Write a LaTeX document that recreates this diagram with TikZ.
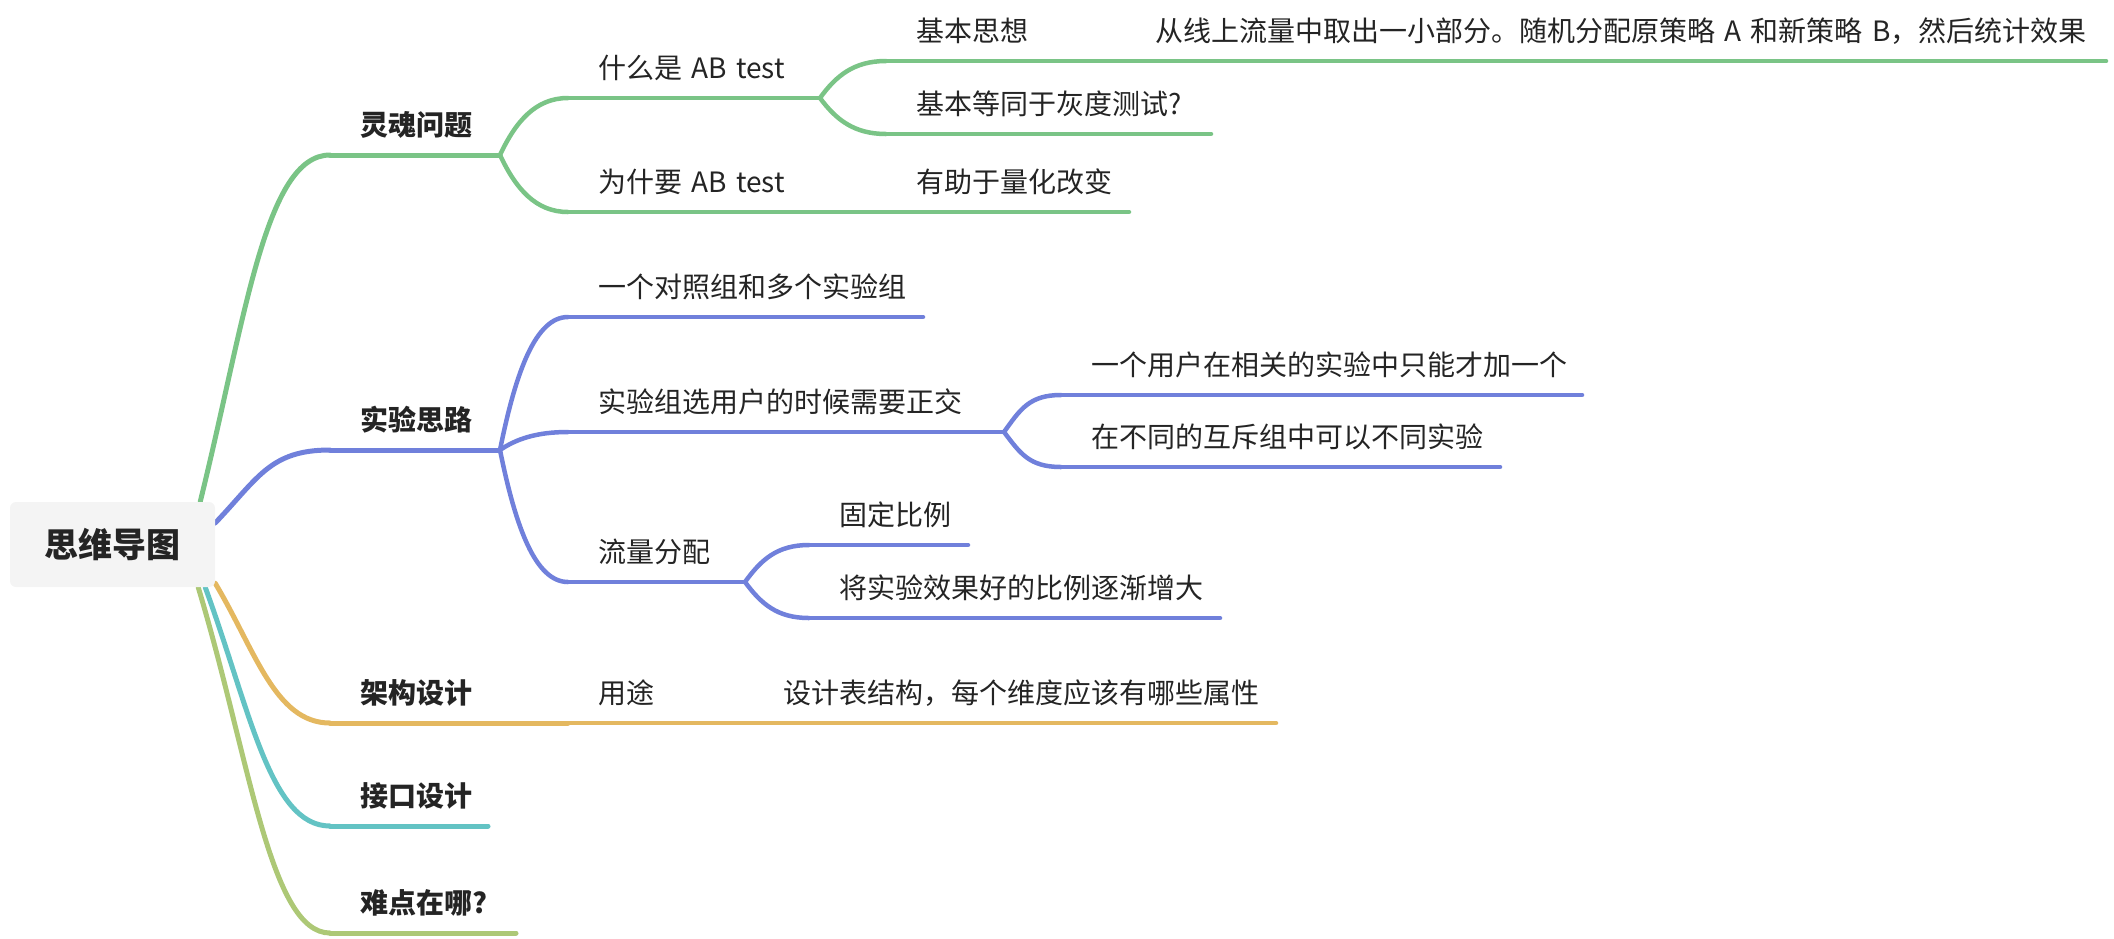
\documentclass[tikz,border=0pt]{standalone}
\usepackage{fontspec}
\setmainfont{Noto Sans CJK SC}
\usepackage{xcolor}
\usepackage{tikz}
\usetikzlibrary{positioning,calc,backgrounds}
\definecolor{mapgreen}{RGB}{122,196,134}
\definecolor{mapblue}{RGB}{112,128,219}
\definecolor{maporange}{RGB}{228,184,96}
\definecolor{mapteal}{RGB}{99,195,196}
\definecolor{mapolive}{RGB}{173,200,118}
\definecolor{rootgray}{RGB}{244,244,244}
\definecolor{inkdark}{RGB}{36,36,36}
\tikzset{
  rootnode/.style={rectangle,rounded corners=6pt,fill=rootgray,
    minimum width=205pt,minimum height=85pt,inner sep=0pt,
    font=\fontsize{34}{40}\selectfont\bfseries,text=inkdark},
  topic/.style={anchor=south west,inner sep=0pt,outer sep=0pt,
    text width=#1,align=left,text depth=20pt,text=inkdark,
    font=\fontsize{28}{34}\selectfont,
    execute at begin node=\noindent\hspace*{30pt}},
  maintopic/.style={topic=#1,font=\fontsize{28}{34}\selectfont\bfseries},
  rootline/.style={draw=#1,line width=5pt,line cap=round},
  underline/.style={draw=#1,line width=4.5pt,line cap=round},
}

\begin{document}
\begin{tikzpicture}[x=1pt,y=-1pt]
\useasboundingbox (0,0) rectangle (2114,938);

% ── Central topic ─────────────────────────────────────────────────────────
\node[rootnode] (root) at (112.5,544.5) {思维导图};

% ── Main topics (left column, top to bottom) ─────────────────────────────
\node[maintopic=170pt] (soul) at (330,155) {灵魂问题};
\node[maintopic=170pt] (exp)  at (330,450) {实验思路};
\node[maintopic=238pt] (arch) at (330,723) {架构设计};
\node[maintopic=158pt] (api)  at (330,826) {接口设计};
\node[maintopic=186pt] (hard) at (330,933) {难点在哪?};

% ── 灵魂问题 subtree ──────────────────────────────────────────────────────
\node[topic=252pt] (what) at ($(soul.south east)+(68,-57)$) {什么是 AB test};
\node[topic=318pt] (why)  at ($(soul.south east)+(68,57)$)  {为什要 AB test};
\node[topic=243pt] (help) at (why.south east) {有助于量化改变};
\node[topic=239pt] (idea) at ($(what.south east)+(66,-37)$) {基本思想};
\node[topic=981pt] (ideatxt) at (idea.south east)
  {从线上流量中取出一小部分。随机分配原策略 A 和新策略 B，然后统计效果};
\node[topic=325pt] (gray) at ($(what.south east)+(66,36)$) {基本等同于灰度测试?};

% ── 实验思路 subtree ──────────────────────────────────────────────────────
\node[topic=355pt] (group)   at ($(exp.south east)+(68,-133)$) {一个对照组和多个实验组};
\node[topic=436pt] (ortho)   at ($(exp.south east)+(68,-18)$)  {实验组选用户的时候需要正交};
\node[topic=177pt] (traffic) at ($(exp.south east)+(68,132)$)  {流量分配};
\node[topic=521pt] (oneuser) at ($(ortho.south east)+(57,-37)$) {一个用户在相关的实验中只能才加一个};
\node[topic=439pt] (mutex)   at ($(ortho.south east)+(57,35)$)  {在不同的互斥组中可以不同实验};
\node[topic=159pt] (fixed)   at ($(traffic.south east)+(64,-37)$) {固定比例};
\node[topic=411pt] (grow)    at ($(traffic.south east)+(64,36)$)  {将实验效果好的比例逐渐增大};

% ── 架构设计 chain ────────────────────────────────────────────────────────
\node[topic=185pt] (use)    at (arch.south east) {用途};
\node[topic=523pt] (design) at (use.south east) {设计表结构，每个维度应该有哪些属性};

% ── Branches out of the central topic ────────────────────────────────────
\begin{scope}[on background layer]
\draw[rootline=mapgreen] ($(root.north east)+(-15,0)$)
  .. controls +(45,-182) and +(-65,0) .. (soul.south west);
\draw[rootline=mapblue] ($(root.east)+(0,-21.5)$)
  .. controls +(43,-45) and +(-60,0) .. (exp.south west);
\draw[rootline=maporange] ($(root.south east)+(0,-4)$)
  .. controls +(40,67) and +(-55,0) .. (arch.south west);
\draw[rootline=mapteal] ($(root.south east)+(-10,0)$)
  .. controls +(45,123) and +(-60,0) .. (api.south west);
\draw[rootline=mapolive] ($(root.south east)+(-17,0)$)
  .. controls +(52,173) and +(-60,0) .. (hard.south west);
\end{scope}

% ── Underlines ────────────────────────────────────────────────────────────
\foreach \n/\c in {soul/mapgreen, exp/mapblue, arch/maporange, api/mapteal, hard/mapolive}
  \draw[rootline=\c] (\n.south west) -- (\n.south east);
\foreach \n/\c in {what/mapgreen, why/mapgreen, help/mapgreen, idea/mapgreen,
                   ideatxt/mapgreen, gray/mapgreen, group/mapblue, ortho/mapblue,
                   traffic/mapblue, oneuser/mapblue, mutex/mapblue, fixed/mapblue,
                   grow/mapblue, use/maporange, design/maporange}
  \draw[underline=\c] (\n.south west) -- (\n.south east);

% ── Forks ─────────────────────────────────────────────────────────────────
\foreach \a/\b/\c in {soul/what/mapgreen, soul/why/mapgreen, what/idea/mapgreen,
                      what/gray/mapgreen, exp/group/mapblue, exp/ortho/mapblue,
                      exp/traffic/mapblue, ortho/oneuser/mapblue, ortho/mutex/mapblue,
                      traffic/fixed/mapblue, traffic/grow/mapblue}
  \draw[underline=\c] let \p1=(\a.south east), \p2=(\b.south west) in
    (\p1) .. controls ({\x1+16pt},{\y1+0.6*(\y2-\y1)}) and ({\x2-32pt},\y2) .. (\p2);

\end{tikzpicture}
\end{document}
